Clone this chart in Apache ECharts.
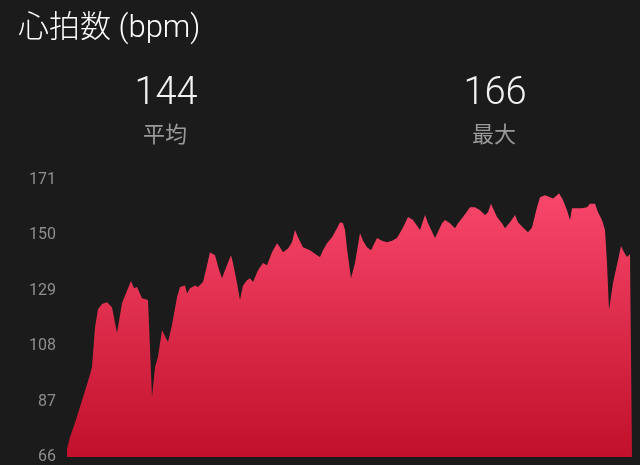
<!DOCTYPE html>
<html>
<head>
<meta charset="utf-8">
<script src="https://cdn.jsdelivr.net/npm/echarts@6/dist/echarts.min.js"></script>
<style>
html,body{margin:0;padding:0;background:#1b1b1b;}
#chart{width:640px;height:465px;}
</style>
</head>
<body>
<div id="chart"></div>
<script>
// elapsed sample position (arbitrary time units) and heart rate (bpm)
const elapsed = [0,3,8,13,18,22,25,28,31,35,40,45,50,55,60,64,67,70,75,81,83,85,88,91,95,101,105,110,113,118,120,123,128,131,136,139,143,148,152,155,158,164,166,170,173,176,180,183,186,191,196,200,205,210,213,216,221,225,228,231,236,243,250,253,256,260,261,265,270,273,276,278,280,284,288,293,296,300,304,310,315,320,325,330,336,341,346,353,358,361,368,375,378,383,388,391,396,403,408,413,418,421,424,426,430,435,438,443,448,451,456,461,465,470,473,478,483,486,490,492,496,500,503,505,510,515,520,523,528,531,535,538,540,542,546,551,554,557,560,563,565];
const heartRate = [69,73.5,79,85,91,96,100,115,122,124,124.7,122.8,113,124.3,129,132.7,130,130.4,126.2,125.5,125,88.7,100,104,114,109.6,116,126.6,130.4,131,128,130,131,130.4,132.3,137,143.6,142.5,137,133.8,136.8,142.5,139.5,132,125.5,131,133,133.8,132.3,136.8,139.5,138.7,143.6,147,145.5,143.6,145,147.4,152,149.3,145.5,144.4,142.5,141.8,144.4,147,146.3,149.3,152.7,155,154.6,152,145,133.8,139.5,150.8,148,145.5,144.4,149,148,147.4,148,149,153,157,155.8,152,157.7,154.6,149,154.6,155.8,154.6,152.7,154.6,157,160.7,160.7,159.5,157.7,158.8,162,160.3,157,154.6,152.7,155,157.7,155,153,151.2,153,160.7,164.5,165.2,164.5,164,165.2,166,163.4,159.5,155.8,160.3,160.3,160.3,160.7,162,162,158.8,155.8,152,139.5,121.7,132,140.6,146,143.6,141.8,142.9,142.9];
const yTicks = [66,87,108,129,150,171];
const titleText = '心拍数 (bpm)';
const statValues = ['144','166'];
const statLabels = ['平均','最大'];

const chart = echarts.init(document.getElementById('chart'), null, {renderer:'canvas'});
const seriesData = elapsed.map((t,i)=>[t, heartRate[i]]);
const FONT = "Roboto, 'Noto Sans CJK JP', sans-serif";
chart.setOption({
  backgroundColor:'#1b1b1b',
  animation:false,
  grid:{left:67,right:8,top:180,bottom:8},
  xAxis:{type:'value',min:0,max:565,show:false},
  yAxis:{
    type:'value',min:yTicks[0],max:yTicks[yTicks.length-1],
    axisLine:{show:false},axisTick:{show:false},splitLine:{show:false},
    axisLabel:{customValues:yTicks,color:'#8e8e8e',fontSize:16,fontFamily:FONT,margin:11}
  },
  graphic:[
    {type:'text',x:18,y:29,style:{text:titleText,fill:'#ffffff',font:"300 31px "+FONT,verticalAlign:'middle'}},
    {type:'text',x:166,y:94,style:{text:statValues[0],fill:'#f2f2f2',font:"300 38px "+FONT,align:'center',verticalAlign:'middle'}},
    {type:'text',x:165,y:136,style:{text:statLabels[0],fill:'#9a9a9a',font:"22px "+FONT,align:'center',verticalAlign:'middle'}},
    {type:'text',x:495,y:94,style:{text:statValues[1],fill:'#f2f2f2',font:"300 38px "+FONT,align:'center',verticalAlign:'middle'}},
    {type:'text',x:494,y:136,style:{text:statLabels[1],fill:'#9a9a9a',font:"22px "+FONT,align:'center',verticalAlign:'middle'}}
  ],
  series:[{
    type:'line',data:seriesData,showSymbol:false,smooth:false,
    lineStyle:{width:0},
    areaStyle:{opacity:1,color:new echarts.graphic.LinearGradient(0,0,0,1,[
      {offset:0,color:'#f8476b'},{offset:1,color:'#c0102a'}
    ])}
  }]
});
</script>
</body>
</html>
